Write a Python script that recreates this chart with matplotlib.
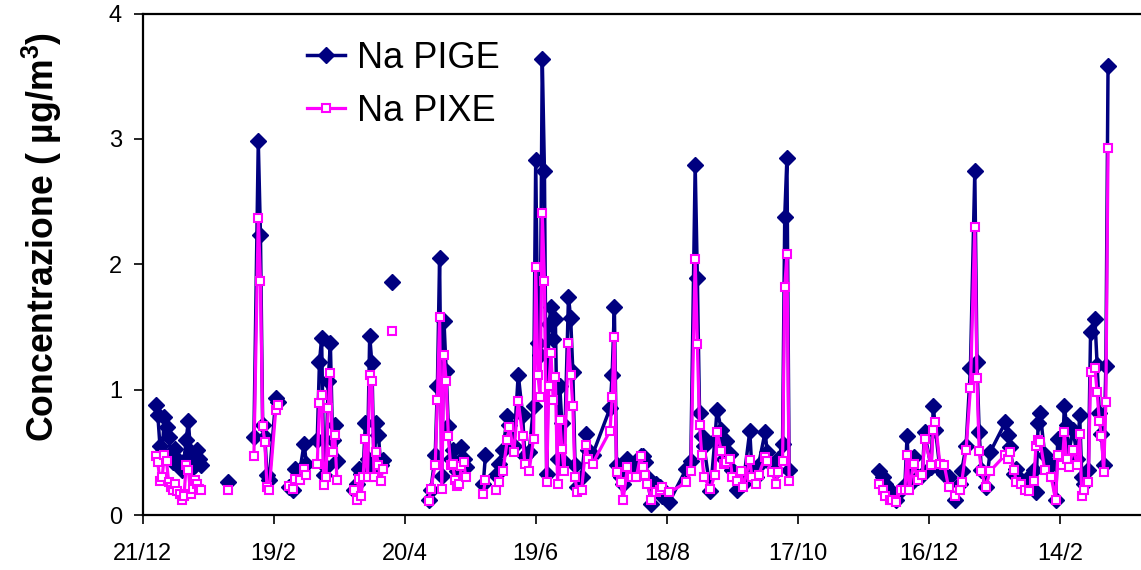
import numpy as np
import matplotlib
matplotlib.use("Agg")
import matplotlib.pyplot as plt

plt.rcParams['font.family'] = ['Liberation Sans', 'DejaVu Sans']
plt.rcParams['mathtext.fontset'] = 'custom'
plt.rcParams['mathtext.rm'] = 'Liberation Sans'
plt.rcParams['mathtext.bf'] = 'Liberation Sans:bold'

nan = np.nan

# Sampling day, counted from 21/12; nan separates runs of consecutive samples
day = [
    6, 7, 8, 9, 10, 11, 12, 13, 14, 15, 16, 17, 18, 19, 20, 21, 22, 23, 24, 25, 26, 27, nan,
    39, nan,
    51, 53, 54, 55, 56, 57, 58, 61, 62, nan,
    67, 69, 70, 72, 74, 75, nan,
    80, 81, 82, 83, 84, 85, 86, 87, 88, 89, nan,
    97, 98, 99, 100, 101, 102, 103, 104, 105, 106, 107, 108, 109, 110, nan,
    114, nan,
    131, 132, 134, 135, 136, 137, 138, 139, 140, 141, 142, 143, 144, 145, 146, 147, 148, nan,
    156, 157, nan,
    162, 163, 165, 167, 168, 170, 172, 174, 175, 177, 179, 180, 181, 182, 183, 184, 185, 186,
    187, 188, 189, 190, 191, 192, 193, 195, 196, 197, 198, 199, 201, 203, 204, 206,
    214, 215, 216, 217, 219, 220, 222, 224, 226, 228, 229, 230, 231, 233, 235, 237, 238, 241,
    249, 251, 253, 254, 255, 256, 257, 260, 262, 263, 265, 266, 267, 269, 270, 272, 274, 275,
    278, 279, 281, 282, 285, 286, 288, 290, 291, 293, 294, 295, 296, nan,
    337, 339, 340, 342, 343, 345, 347, 349, 350, 351, 353, 355, 357, 358, 361, 362, 363, 365,
    367, 369, 372, 374, 375, 377, 379, 381, 382, 383, 384, 386, 388,
    395, 396, 397, 399, 400, 402, 404, 406, 408, 409, 410, 411, 413, 416, 418, 419, 421, 422,
    423, 424, 426, 428, 429, 430, 431, 433, 434, 436, 437, 438, 439, 440, 441, 442,
]

na_pige = [
    0.88, 0.80, 0.55, 0.50, 0.78, 0.70, 0.62, 0.48, 0.42, 0.53, 0.45, 0.40, 0.36, 0.43, 0.60, 0.75, 0.50, 0.38, 0.40, 0.52, 0.45, 0.40, nan,
    0.26, nan,
    0.62, 2.98, 2.23, 0.72, 0.62, 0.32, 0.28, 0.93, 0.90, nan,
    0.22, 0.20, 0.37, 0.35, 0.57, 0.41, nan,
    0.60, 1.22, 1.41, 0.32, 0.38, 1.07, 1.37, 0.60, 0.72, 0.43, nan,
    0.20, 0.25, 0.37, 0.33, 0.35, 0.73, 0.45, 1.43, 1.21, 0.38, 0.73, 0.64, 0.40, 0.44, nan,
    1.86, nan,
    0.12, 0.20, 0.48, 1.03, 2.05, 0.31, 1.55, 1.15, 0.71, 0.45, 0.52, 0.40, 0.35, 0.42, 0.54, 0.45, 0.38, nan,
    0.25, 0.48, nan,
    0.32, 0.41, 0.52, 0.79, 0.72, 0.55, 1.12, 0.80, 0.47, 0.50, 0.87, 2.83, 1.37, 1.28, 3.64, 2.74, 0.33, 1.52,
    1.66, 1.40, 1.56, 0.45, 1.03, 0.73, 0.42, 1.74, 1.57, 1.14, 0.40, 0.22, 0.30, 0.65, 0.52, 0.48,
    0.85, 1.12, 1.66, 0.40, 0.30, 0.25, 0.45, 0.35, 0.40, 0.47, 0.47, 0.42, 0.30, 0.09, 0.25, 0.22, 0.15, 0.10,
    0.37, 0.43, 2.79, 1.89, 0.81, 0.63, 0.55, 0.19, 0.60, 0.84, 0.68, 0.45, 0.59, 0.49, 0.36, 0.20, 0.30, 0.25,
    0.67, 0.35, 0.30, 0.40, 0.66, 0.50, 0.40, 0.35, 0.45, 0.57, 2.38, 2.85, 0.36, nan,
    0.35, 0.30, 0.25, 0.20, 0.14, 0.12, 0.20, 0.24, 0.63, 0.24, 0.46, 0.30, 0.32, 0.66, 0.38, 0.87, 0.68, 0.37,
    0.33, 0.30, 0.12, 0.25, 0.35, 0.55, 1.17, 2.74, 1.22, 0.66, 0.36, 0.22, 0.50,
    0.74, 0.64, 0.54, 0.33, 0.37, 0.28, 0.25, 0.30, 0.36, 0.18, 0.73, 0.81, 0.48, 0.40, 0.12, 0.61, 0.45, 0.87,
    0.72, 0.50, 0.68, 0.45, 0.80, 0.30, 0.25, 0.36, 1.46, 1.56, 1.20, 0.81, 0.65, 0.40, 1.19, 3.58,
]

na_pixe = [
    0.47, 0.42, 0.27, 0.30, 0.48, 0.43, 0.26, 0.22, 0.20, 0.25, 0.19, 0.17, 0.12, 0.15, 0.40, 0.36, 0.17, 0.21, 0.28, 0.25, 0.21, 0.20, nan,
    0.20, nan,
    0.47, 2.37, 1.87, 0.71, 0.58, 0.22, 0.20, 0.84, 0.88, nan,
    0.23, 0.21, 0.29, 0.28, 0.37, 0.32, nan,
    0.41, 0.89, 0.96, 0.24, 0.30, 0.85, 1.13, 0.50, 0.64, 0.28, nan,
    0.20, 0.12, 0.29, 0.15, 0.30, 0.61, 0.30, 1.12, 1.07, 0.30, 0.50, 0.40, 0.27, 0.37, nan,
    1.47, nan,
    0.11, 0.21, 0.40, 0.92, 1.58, 0.21, 1.28, 1.07, 0.63, 0.40, 0.41, 0.28, 0.23, 0.25, 0.39, 0.42, 0.30, nan,
    0.17, 0.28, nan,
    0.20, 0.26, 0.35, 0.60, 0.70, 0.50, 0.91, 0.63, 0.41, 0.35, 0.61, 1.98, 1.12, 0.94, 2.41, 1.87, 0.26, 1.03,
    1.29, 0.92, 1.10, 0.25, 0.76, 0.53, 0.35, 1.37, 1.12, 0.87, 0.30, 0.18, 0.20, 0.56, 0.45, 0.41,
    0.67, 0.94, 1.42, 0.34, 0.26, 0.12, 0.38, 0.30, 0.30, 0.47, 0.38, 0.32, 0.25, 0.12, 0.18, 0.20, 0.22, 0.18,
    0.26, 0.35, 2.04, 1.36, 0.72, 0.48, 0.30, 0.21, 0.32, 0.66, 0.51, 0.41, 0.42, 0.45, 0.30, 0.27, 0.35, 0.22,
    0.44, 0.30, 0.25, 0.32, 0.46, 0.43, 0.34, 0.25, 0.34, 0.43, 1.82, 2.08, 0.27, nan,
    0.25, 0.20, 0.15, 0.12, 0.12, 0.10, 0.20, 0.20, 0.48, 0.20, 0.41, 0.28, 0.32, 0.61, 0.40, 0.68, 0.74, 0.41,
    0.40, 0.22, 0.15, 0.20, 0.26, 0.52, 1.01, 2.30, 1.09, 0.51, 0.35, 0.22, 0.35,
    0.48, 0.45, 0.50, 0.36, 0.26, 0.25, 0.20, 0.19, 0.27, 0.55, 0.60, 0.58, 0.36, 0.30, 0.12, 0.48, 0.40, 0.66,
    0.45, 0.38, 0.52, 0.40, 0.65, 0.15, 0.20, 0.26, 1.14, 1.17, 0.98, 0.75, 0.63, 0.34, 0.90, 2.93,
]

tick_days = [0, 60, 120, 180, 240, 300, 360, 420]
tick_labels = ['21/12', '19/2', '20/4', '19/6', '18/8', '17/10', '16/12', '14/2']

W, H = 1141, 570
fig = plt.figure(figsize=(W / 100, H / 100), dpi=100)
x0, y_top, y_bot = 142.5, 13.5, 515.0
ax = fig.add_axes([x0 / W, 1 - y_bot / H, 1 - x0 / W, (y_bot - y_top) / H])

ax.plot(day, na_pige, color='#000080', lw=2.5, marker='D', ms=8.0,
        mfc='#000080', mec='#000080', label='Na PIGE', zorder=3)
ax.plot(day, na_pixe, color='#FF00FF', lw=2.3, marker='s', ms=6.3,
        mfc='white', mec='#FF00FF', mew=1.5, label='Na PIXE', zorder=4)

ax.set_xlim(0, (W - x0) / 2.1845)
ax.set_ylim(0, 4)
ax.set_xticks(tick_days)
ax.set_xticklabels(tick_labels)
ax.set_yticks([0, 1, 2, 3, 4])

for side in ('left', 'bottom', 'top'):
    ax.spines[side].set_linewidth(1.6)
    ax.spines[side].set_color('black')
ax.spines['right'].set_visible(False)

ax.tick_params(axis='x', direction='out', length=6.8, width=1.2, labelsize=17, pad=13)
ax.tick_params(axis='y', direction='out', length=6.8, width=1.2, labelsize=17, pad=8)

ax.set_ylabel('Concentrazione ( µg/m$^{\\mathbf{3}}$)', fontsize=25.7, fontweight='bold',
              va='center')
ax.yaxis.set_label_coords((42 - x0) / (W - x0), (y_bot - 237) / (y_bot - y_top))

leg = ax.legend(loc='upper left', bbox_to_anchor=(307 / W, 1 - 41 / H),
                bbox_transform=fig.transFigure, frameon=False, fontsize=26,
                handlelength=1.05, handletextpad=0.33, labelspacing=0.49,
                borderpad=0, borderaxespad=0)

fig.savefig('out.png', dpi=100)
